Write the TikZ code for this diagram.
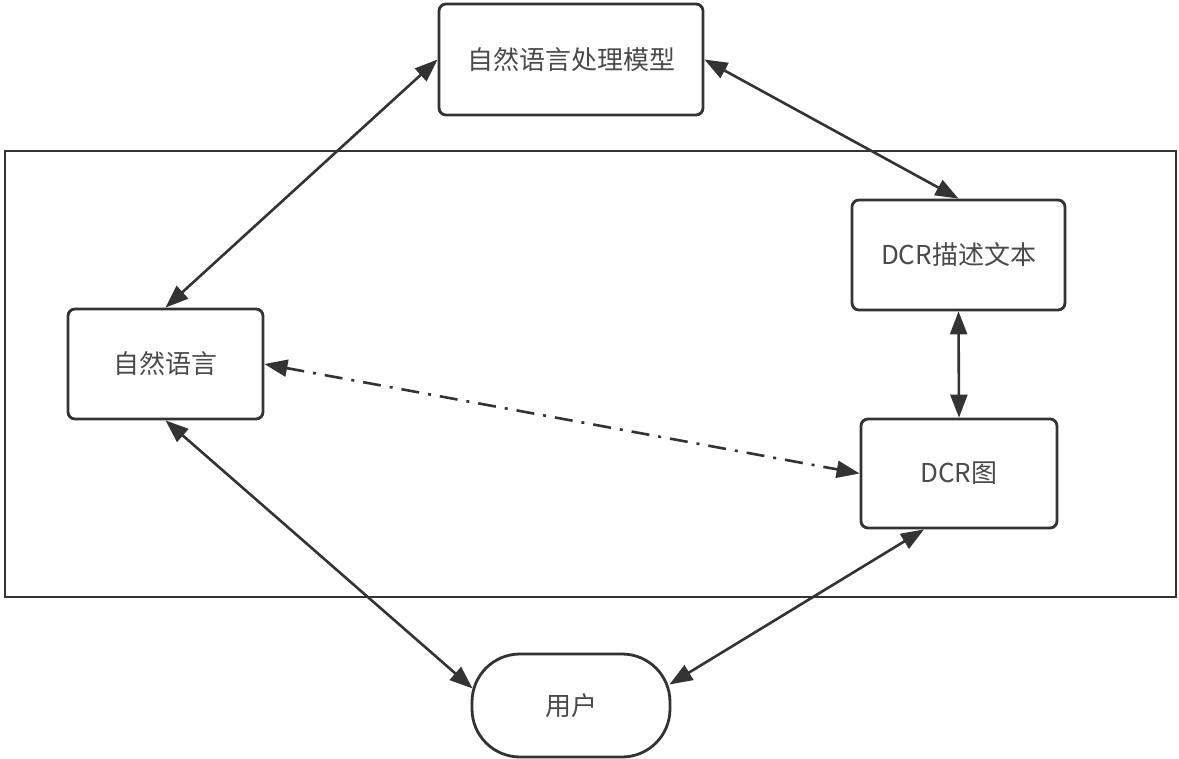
\documentclass[tikz,border=0pt]{standalone}
\usepackage{fontspec}
\newfontfamily\cjk{Noto Sans CJK SC}
\usetikzlibrary{arrows.meta,calc}
\definecolor{linec}{HTML}{333333}
\definecolor{textc}{HTML}{4A4A4A}
\begin{document}
\begin{tikzpicture}[x=1pt,y=-1pt,
  box/.style={draw=linec, line width=2.8pt, rounded corners=7pt, fill=white,
    inner sep=0pt, text=textc, font=\cjk\fontsize{26}{30}\selectfont},
  link/.style={draw=linec, line width=2.6pt,
    {Triangle[length=23pt,width=17pt]}-{Triangle[length=23pt,width=17pt]}},
  dashdot/.style={dash pattern=on 18pt off 9pt on 3pt off 9pt}]
\useasboundingbox (0,0) rectangle (1179,759);
\fill[white] (0,0) rectangle (1179,759);
\node[draw=linec, line width=2.8pt, minimum width=1171pt, minimum height=446pt, inner sep=0pt] (frame) at (590.5,374) {};
\node[box, minimum width=264pt, minimum height=111pt] (nlp) at (571,59.5) {自然语言处理模型};
\node[box, minimum width=213pt, minimum height=110pt] (desc) at (958.5,255) {DCR描述文本};
\node[box, minimum width=195pt, minimum height=110pt] (nl) at (165.5,364) {自然语言};
\node[box, minimum width=196pt, minimum height=109pt] (dcr) at (959,473.5) {DCR图};
\node[box, rounded corners=48pt, minimum width=198pt, minimum height=103pt] (user) at (571,705.5) {用户};
\draw[link] (nl.north) -- (nlp.west);
\draw[link] (nlp.east) -- (desc.north);
\draw[link] (desc.south) -- (dcr.north);
\draw[link, dashdot] (nl.east) -- (dcr.west);
\draw[link] (nl.south) -- ([xshift=2pt,yshift=17pt]user.west);
\draw[link] ([xshift=-35pt]dcr.south) -- ([xshift=-2pt,yshift=21pt]user.east);
\end{tikzpicture}
\end{document}
